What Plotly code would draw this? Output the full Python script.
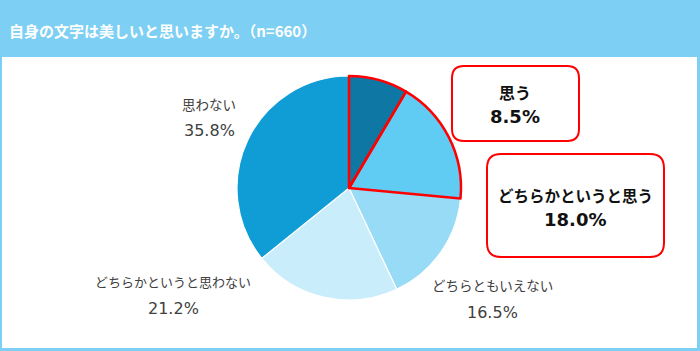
import plotly.graph_objects as go

W, H = 700, 351

categories = ["思う", "どちらかというと思う", "どちらともいえない", "どちらかというと思わない", "思わない"]
values = [8.5, 18.0, 16.5, 21.2, 35.8]
colors = ["#0E77A3", "#60CBF3", "#97DBF7", "#C9EDFB", "#109DD6"]
highlight = [True, True, False, False, False]
title_text = "自身の文字は美しいと思いますか。（n=660）"

FONT = "Noto Sans CJK JP"
NUMFONT = "DejaVu Sans, Noto Sans CJK JP"

def px(x):
    return x / W

def py(y):
    return 1 - y / H

cx, cy, r = 349, 188, 112

fig = go.Figure()
fig.add_trace(go.Pie(
    labels=categories, values=values, sort=False, direction="clockwise",
    rotation=0, textinfo="none", hole=0,
    marker=dict(colors=colors, line=dict(color="white", width=1.2)),
    domain=dict(x=[px(cx - r), px(cx + r)], y=[py(cy + r), py(cy - r)]),
    showlegend=False,
))
fig.add_trace(go.Pie(
    labels=categories, values=values, sort=False, direction="clockwise",
    rotation=0, textinfo="none", hole=0,
    marker=dict(colors=["rgba(0,0,0,0)"] * 5,
                line=dict(color=["#FF0000" if h else "rgba(0,0,0,0)" for h in highlight],
                          width=[2.5 if h else 0 for h in highlight])),
    domain=dict(x=[px(cx - r), px(cx + r)], y=[py(cy + r), py(cy - r)]),
    showlegend=False, hoverinfo="skip",
))

def rounded_rect(x0, y0, x1, y1, rad):
    return (f"M {px(x0+rad)},{py(y0)} L {px(x1-rad)},{py(y0)} "
            f"Q {px(x1)},{py(y0)} {px(x1)},{py(y0+rad)} "
            f"L {px(x1)},{py(y1-rad)} Q {px(x1)},{py(y1)} {px(x1-rad)},{py(y1)} "
            f"L {px(x0+rad)},{py(y1)} Q {px(x0)},{py(y1)} {px(x0)},{py(y1-rad)} "
            f"L {px(x0)},{py(y0+rad)} Q {px(x0)},{py(y0)} {px(x0+rad)},{py(y0)} Z")

shapes = [
    dict(type="rect", xref="paper", yref="paper", x0=px(2), x1=px(697), y0=py(348), y1=py(57),
         fillcolor="white", line=dict(width=0), layer="below"),
    dict(type="path", xref="paper", yref="paper", path=rounded_rect(452, 66, 579, 141, 12),
         line=dict(color="#FF0000", width=2), fillcolor="white"),
    dict(type="path", xref="paper", yref="paper", path=rounded_rect(487, 154, 664, 257, 14),
         line=dict(color="#FF0000", width=2), fillcolor="white"),
]

gray = "#404040"
dark = "#111111"
ann = [
    dict(text=f"<b>{title_text}</b>", x=px(7), y=py(30), xanchor="left", yanchor="middle",
         font=dict(size=15, color="white", family=FONT), showarrow=False),
    dict(text=categories[4], x=px(209), y=py(104), font=dict(size=13.5, color=gray, family=FONT)),
    dict(text=f"{values[4]:.1f}%", x=px(209), y=py(131), font=dict(size=16, color=gray, family=NUMFONT)),
    dict(text=categories[3], x=px(173), y=py(281), font=dict(size=13, color=gray, family=FONT)),
    dict(text=f"{values[3]:.1f}%", x=px(173), y=py(308), font=dict(size=16, color=gray, family=NUMFONT)),
    dict(text=categories[2], x=px(492), y=py(285), font=dict(size=13.5, color=gray, family=FONT)),
    dict(text=f"{values[2]:.1f}%", x=px(492), y=py(312), font=dict(size=16, color=gray, family=NUMFONT)),
    dict(text=f"<b>{categories[0]}</b>", x=px(515), y=py(92), font=dict(size=16, color=dark, family=FONT)),
    dict(text=f"<b>{values[0]:.1f}%</b>", x=px(515), y=py(117), font=dict(size=18, color=dark, family=NUMFONT)),
    dict(text=f"<b>{categories[1]}</b>", x=px(575), y=py(195), font=dict(size=15.5, color=dark, family=FONT)),
    dict(text=f"<b>{values[1]:.1f}%</b>", x=px(575), y=py(219), font=dict(size=18, color=dark, family=NUMFONT)),
]
for a in ann:
    a.setdefault("xref", "paper")
    a.setdefault("yref", "paper")
    a.setdefault("showarrow", False)
    a.setdefault("xanchor", "center")
    a.setdefault("yanchor", "middle")

fig.update_layout(
    width=W, height=H, margin=dict(l=0, r=0, t=0, b=0),
    paper_bgcolor="#7DCFF3", plot_bgcolor="white",
    shapes=shapes, annotations=ann, showlegend=False,
    font=dict(family=FONT),
)
fig.write_html("out.html")
